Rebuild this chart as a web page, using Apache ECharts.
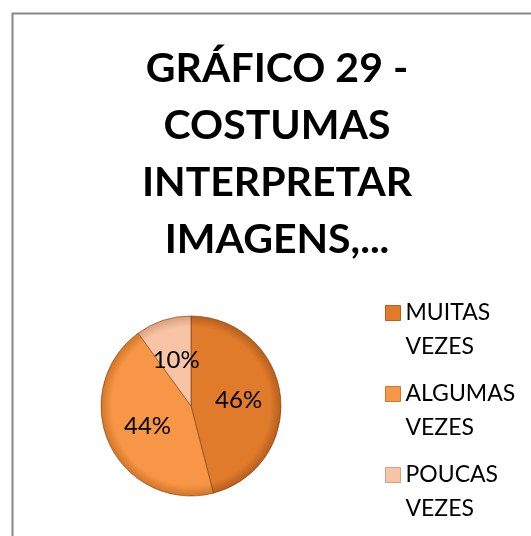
<!DOCTYPE html>
<html>
<head>
<meta charset="utf-8">
<script src="https://cdn.jsdelivr.net/npm/echarts@6/dist/echarts.min.js"></script>
<style>
  html, body { margin: 0; padding: 0; background: #fff; }
  #chart { width: 531px; height: 536px; }
</style>
</head>
<body>
<div id="chart"></div>
<script>
// categorias e valores (%)
const categorias = ['MUITAS VEZES', 'ALGUMAS VEZES', 'POUCAS VEZES'];
const valores = [46, 44, 10];
const cores = ['#E07B2C', '#F79646', '#F7C4A6'];
const bordas = ['#B85E1C', '#D47628', '#D9A080'];
const titulo = 'GRÁFICO 29 -\nCOSTUMAS\nINTERPRETAR\nIMAGENS,...';

const cx = 191, cy = 406, raio = 90;

let myChart = echarts.init(document.getElementById('chart'));

// gradiente radial para dar um leve relevo nas bordas da pizza
function relevo(i) {
  return {
    type: 'radial', x: cx, y: cy, r: raio, global: true,
    colorStops: [
      { offset: 0, color: cores[i] },
      { offset: 0.88, color: cores[i] },
      { offset: 1, color: bordas[i] }
    ]
  };
}

let option = {
  animation: false,
  backgroundColor: '#fff',
  graphic: [{
    type: 'rect',
    shape: { x: 12.5, y: 13.5, width: 560, height: 560 },
    style: { fill: 'none', stroke: '#868686', lineWidth: 2 },
    silent: true
  }],
  title: {
    text: titulo,
    left: 277,
    top: 40,
    padding: 0,
    textAlign: 'center',
    textStyle: {
      fontFamily: 'Lato',
      fontWeight: 'bold',
      fontSize: 41,
      lineHeight: 57,
      color: '#000'
    }
  },
  legend: {
    orient: 'vertical',
    left: 385,
    top: 262,
    height: 300,
    padding: 0,
    itemWidth: 15,
    itemHeight: 15,
    itemGap: -21,
    icon: 'rect',
    // linha vazia em cima para alinhar o ícone com a primeira linha
    formatter(name) {
      return '\n' + name.replace(' ', '\n');
    },
    textStyle: {
      fontFamily: 'Lato',
      fontSize: 23,
      lineHeight: 34,
      color: '#000'
    },
    data: categorias.map((c, i) => ({
      name: c,
      itemStyle: { color: cores[i], borderColor: bordas[i], borderWidth: 1 }
    }))
  },
  series: [{
    type: 'pie',
    center: [cx, cy],
    radius: raio,
    startAngle: 90,
    clockwise: true,
    color: cores,
    itemStyle: {
      borderColor: 'rgba(120,60,20,0.6)',
      borderWidth: 1
    },
    label: {
      position: 'inside',
      formatter: '{c}%',
      fontFamily: 'Lato',
      fontSize: 24,
      color: '#000'
    },
    labelLine: { show: false },
    emphasis: { disabled: true },
    data: categorias.map((c, i) => ({
      name: c,
      value: valores[i],
      itemStyle: { color: relevo(i) }
    }))
  }]
};

myChart.setOption(option, true);
</script>
</body>
</html>
